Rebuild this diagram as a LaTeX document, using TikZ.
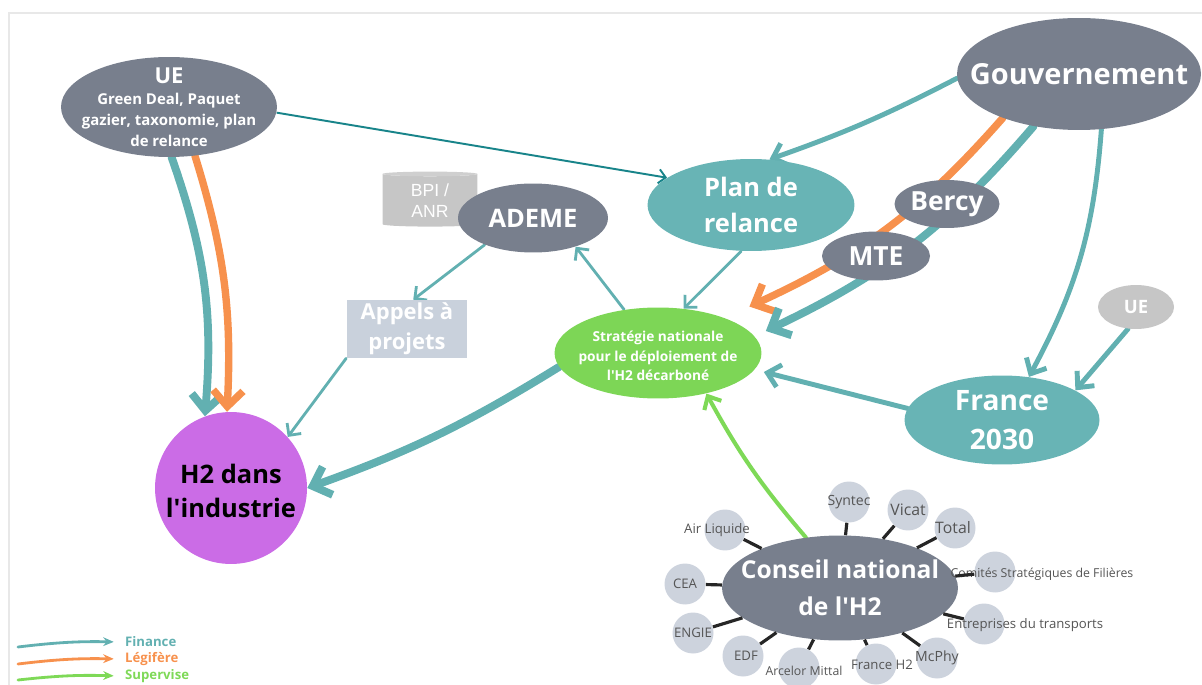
\documentclass[tikz,border=0pt]{standalone}
\usepackage{fontspec}
\setmainfont{Open Sans}[Ligatures=TeXOff]
\newfontfamily\bpifont{Liberation Sans}
\usetikzlibrary{shapes.geometric}
\usetikzlibrary{positioning}
\usetikzlibrary{arrows.meta}
\usetikzlibrary{backgrounds}
\definecolor{nodegray}{RGB}{120,127,141}
\definecolor{tealnode}{RGB}{104,180,181}
\definecolor{tealline}{RGB}{98,176,177}
\definecolor{darkteal}{RGB}{24,132,138}
\definecolor{orangeline}{RGB}{247,145,77}
\definecolor{greenline}{RGB}{126,217,87}
\definecolor{greennode}{RGB}{125,214,86}
\definecolor{violetnode}{RGB}{203,108,230}
\definecolor{paleblue}{RGB}{201,209,220}
\definecolor{membergray}{RGB}{205,211,221}
\definecolor{lightgray}{RGB}{198,198,198}
\definecolor{membertext}{RGB}{85,85,85}
\definecolor{framegray}{RGB}{232,232,232}
\tikzset{
    actor/.style = {ellipse, fill=nodegray, inner sep=0pt},
    program/.style = {ellipse, fill=tealnode, inner sep=0pt},
    member/.style = {circle, fill=membergray, minimum size=0.82cm, inner sep=0pt},
    whitelab/.style = {text=white, align=center, inner sep=0pt, font=\bfseries\fontsize{14.5}{20.5}\selectfont},
    memlab/.style = {text=membertext, inner sep=0pt, font=\fontsize{7.5}{9}\selectfont},
    link/.style = {line width=1.8pt, black!85},
    fin/.style = {tealline, line cap=round},
    finbig/.style = {fin, line width=4.5pt, -{Straight Barb[length=9pt,width=17pt]}},
    finmid/.style = {fin, line width=2.8pt, -{Straight Barb[length=7pt,width=13pt]}},
    finthin/.style = {fin, line width=1.6pt, -{Straight Barb[length=5pt,width=10pt]}},
    legbig/.style = {orangeline, line cap=round, line width=4.2pt, -{Straight Barb[length=9pt,width=17pt]}},
    supmid/.style = {greenline, line cap=round, line width=2.3pt, -{Straight Barb[length=6pt,width=11pt]}},
    legend/.style = {line width=1.6pt, line cap=round, -{Stealth[length=6pt,width=5pt]}, shorten >=3pt},
    legtext/.style = {anchor=west, font=\bfseries\fontsize{7.5}{9}\selectfont}
}
\begin{document}
\begin{tikzpicture}[x=0.02cm, y=-0.02cm]
\useasboundingbox (0,0) rectangle (1202,685);
\draw[framegray, line width=0.8pt] (9,685) |- (1202,13);
%
\node[actor, minimum width=4.32cm, minimum height=2cm,
      label={[whitelab, font=\bfseries\fontsize{8.5}{12}\selectfont]center:{{\fontsize{12.5}{14}\selectfont UE}\\Green Deal, Paquet\\gazier, taxonomie, plan\\de relance}}] (ue) at (169,107) {};
\node[actor, minimum width=4.88cm, minimum height=2.24cm,
      label={[whitelab, font=\bfseries\fontsize{16.5}{20}\selectfont]center:Gouvernement}] (gouv) at (1079,74) {};
\node[program, minimum width=4.14cm, minimum height=1.84cm,
      label={[whitelab]center:{Plan de\\relance}}] (plan) at (751,205) {};
\node[cylinder, shape border rotate=90, aspect=0.4, cylinder uses custom fill,
      cylinder body fill=lightgray, cylinder end fill=lightgray!85, minimum width=1.9cm, minimum height=1.1cm,
      label={[text=white, align=center, inner sep=0pt, font=\bpifont\fontsize{10}{12}\selectfont]center:{BPI /\\ANR}}] (bpi) at (430,201) {};
\node[actor, minimum width=3cm, minimum height=1.38cm,
      label={[whitelab]center:ADEME}] (ademe) at (533,218) {};
\node[actor, minimum width=2.1cm, minimum height=0.96cm,
      label={[whitelab, font=\bfseries\fontsize{15}{18}\selectfont]center:Bercy}] (bercy) at (947,204) {};
\node[actor, minimum width=2.16cm, minimum height=0.98cm,
      label={[whitelab, font=\bfseries\fontsize{15}{18}\selectfont]center:MTE}] (mte) at (876,256) {};
\node[ellipse, fill=greennode, inner sep=0pt, minimum width=4.14cm, minimum height=1.82cm,
      label={[whitelab, shift={(0,3)}, font=\bfseries\fontsize{7.8}{11}\selectfont]center:{Stratégie nationale\\pour le déploiement de\\l'H2 décarboné}}] (strat) at (658,353) {};
\node[rectangle, fill=paleblue, minimum width=2.42cm, minimum height=1.16cm, inner sep=0pt,
      label={[whitelab, font=\bfseries\fontsize{12.5}{17}\selectfont]center:{Appels à\\projets}}] (appels) at (407,329) {};
\node[ellipse, fill=lightgray, inner sep=0pt, minimum width=1.52cm, minimum height=0.88cm,
      label={[whitelab, font=\bfseries\fontsize{10.5}{12}\selectfont]center:UE}] (uesm) at (1136,307) {};
\node[program, minimum width=3.9cm, minimum height=1.78cm,
      label={[whitelab, font=\bfseries\fontsize{16}{22}\selectfont]center:{France\\2030}}] (france) at (1002,420) {};
\node[circle, fill=violetnode, minimum size=3.04cm, inner sep=0pt,
      label={[whitelab, text=black, shift={(0,3)}, font=\bfseries\fontsize{14.5}{19.5}\selectfont]center:{H2 dans\\l'industrie}}] (h2) at (231,488) {};
\node[actor, minimum width=4.72cm, minimum height=2.1cm,
      label={[whitelab, font=\bfseries\fontsize{14}{21}\selectfont]center:{Conseil national\\de l'H2}}] (conseil) at (840,588) {};
%
\node[member, label={[memlab, font=\fontsize{8}{9}\selectfont]center:Syntec}] (syntec) at (849,502) {};
\node[member, label={[memlab, font=\fontsize{9}{10}\selectfont]center:Vicat}] (vicat) at (908,510) {};
\node[member, label={[memlab, shift={(-2,0)}, font=\fontsize{9}{10}\selectfont]center:Total}] (total) at (955,528) {};
\node[member, label={[memlab, shift={(47,2)}, font=\fontsize{7}{8}\selectfont]center:Comités Stratégiques de Filières}] (comites) at (995,572) {};
\node[member, label={[memlab, shift={(41,1)}]center:Entreprises du transports}] (entreprises) at (984,624) {};
\node[member, label={[memlab, font=\fontsize{8}{9}\selectfont]center:McPhy}] (mcphy) at (937,658) {};
\node[member, label={[memlab, shift={(6,1)}]center:France H2}] (franceh) at (876,664) {};
\node[member, label={[memlab, shift={(5,3)}, font=\fontsize{7}{8}\selectfont]center:Arcelor Mittal}] (arcelor) at (799,668) {};
\node[member, label={[memlab, shift={(3,0)}]center:EDF}] (edf) at (743,656) {};
\node[member, label={[memlab]center:ENGIE}] (engie) at (693,633) {};
\node[member, label={[memlab]center:CEA}] (cea) at (685,584) {};
\node[member, label={[memlab, shift={(-8,0)}]center:Air Liquide}] (airliquide) at (725,530) {};
%
\foreach \m in {syntec, vicat, total, comites, entreprises, mcphy, franceh, arcelor, edf, engie, cea, airliquide}
    \draw[link] (conseil) -- (\m);
%
\begin{scope}[on background layer]
\draw[darkteal, line width=1.1pt, -{Straight Barb[length=4pt,width=8pt]}] (ue.-3) -- (plan.162);
\draw[finmid] (gouv.182) to[bend left=4] (plan.68);
\draw[legbig] (gouv.210) to[bend left=12] ([shift={(18,-14)}]strat.north east);
\draw[finbig] (gouv.229) to[bend left=12] ([shift={(4,-22)}]strat.east);
\draw[finmid] (gouv.292) to[bend left=12] (france.58);
\draw[finmid] (uesm.250) -- (france.22);
\draw[finmid] (france.173) -- ([shift={(2,19)}]strat.east);
\draw[finthin] (plan.258) -- (strat.60);
\draw[finthin] (strat.128) -- (ademe.-34);
\draw[finthin] (ademe.209) -- (appels.78);
\draw[finthin] (appels.south west) -- (h2.42);
\draw[finbig] (strat.188) to[bend left=6] (h2.east);
\draw[finbig] (ue.-87) to[bend left=12] (h2.110);
\draw[legbig] (ue.-62) to[bend left=10] (h2.93);
\draw[supmid] (conseil.124) to[bend left=6] (strat.-40);
\end{scope}
%
\coordinate (lgfa) at (18,647);
\coordinate (lgla) at (18,664);
\coordinate (lgsa) at (18,680);
\node[legtext, text=tealline] (lgfin) at (119,642) {Finance};
\node[legtext, text=orangeline] (lgleg) at (119,659) {Légifère};
\node[legtext, text=greenline] (lgsup) at (119,676) {Supervise};
\draw[legend, tealline] (lgfa) to[bend left=4] (lgfin.west);
\draw[legend, orangeline] (lgla) to[bend left=4] (lgleg.west);
\draw[legend, greenline] (lgsa) to[bend left=4] (lgsup.west);

\end{tikzpicture}
\end{document}
